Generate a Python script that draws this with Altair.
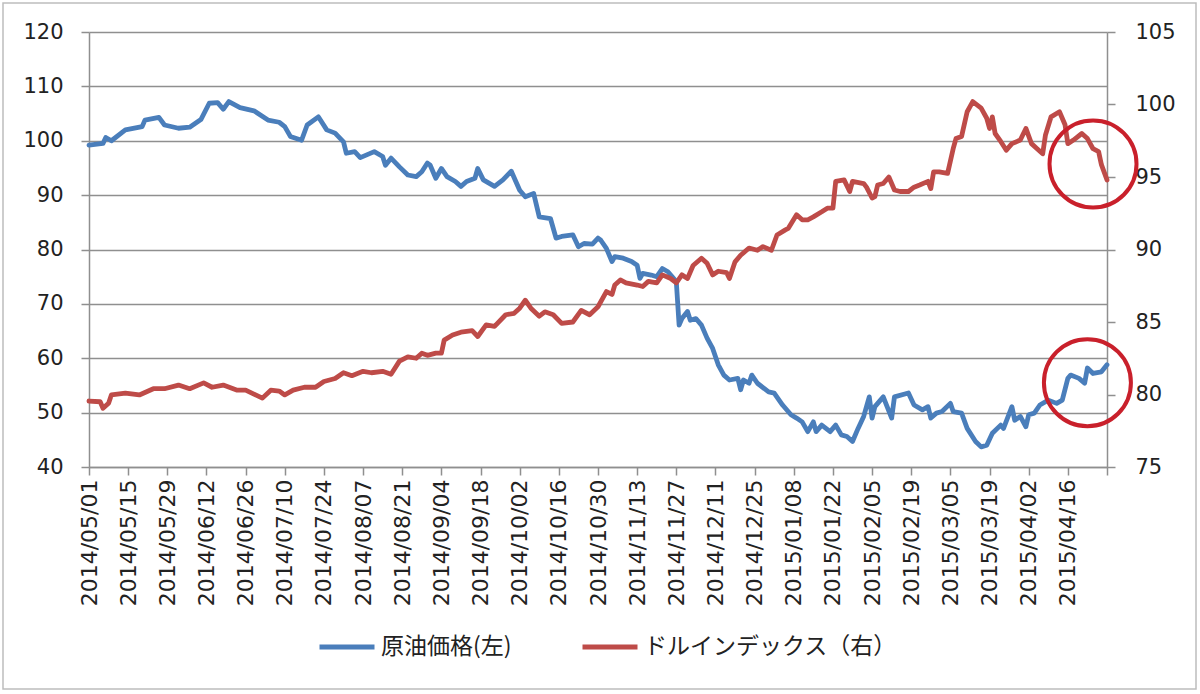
import altair as alt
import pandas as pd

# Series names (legend labels)
OIL = "原油価格(左)"
DXY = "ドルインデックス（右）"

# Crude oil price (left axis)
oil_dates = [
    "2014-05-01", "2014-05-06", "2014-05-07", "2014-05-09", "2014-05-14", "2014-05-20",
    "2014-05-21", "2014-05-26", "2014-05-28", "2014-06-02", "2014-06-06", "2014-06-10",
    "2014-06-13", "2014-06-16", "2014-06-18", "2014-06-20", "2014-06-24", "2014-06-29",
    "2014-07-04", "2014-07-08", "2014-07-10", "2014-07-12", "2014-07-16", "2014-07-18",
    "2014-07-22", "2014-07-25", "2014-07-28", "2014-07-31", "2014-08-01", "2014-08-04",
    "2014-08-06", "2014-08-11", "2014-08-14", "2014-08-15", "2014-08-17", "2014-08-20",
    "2014-08-23", "2014-08-26", "2014-08-28", "2014-08-30",
    "2014-08-31", "2014-09-02", "2014-09-04", "2014-09-06", "2014-09-09", "2014-09-11",
    "2014-09-13", "2014-09-16", "2014-09-17", "2014-09-19", "2014-09-23", "2014-09-26",
    "2014-09-29", "2014-10-02", "2014-10-04", "2014-10-07", "2014-10-09", "2014-10-13",
    "2014-10-15", "2014-10-17", "2014-10-21", "2014-10-23", "2014-10-25", "2014-10-28",
    "2014-10-30",
    "2014-10-31", "2014-11-02", "2014-11-04", "2014-11-05", "2014-11-08", "2014-11-11",
    "2014-11-13", "2014-11-14", "2014-11-15", "2014-11-18", "2014-11-20", "2014-11-22",
    "2014-11-24", "2014-11-27", "2014-11-28", "2014-11-29", "2014-12-01", "2014-12-02",
    "2014-12-04", "2014-12-06", "2014-12-08", "2014-12-10", "2014-12-12", "2014-12-14",
    "2014-12-16", "2014-12-19", "2014-12-20", "2014-12-21", "2014-12-23", "2014-12-24",
    "2014-12-26", "2014-12-30",
    "2015-01-01", "2015-01-04", "2015-01-07", "2015-01-09", "2015-01-11", "2015-01-13",
    "2015-01-15", "2015-01-16", "2015-01-18", "2015-01-21", "2015-01-23", "2015-01-25",
    "2015-01-27", "2015-01-29", "2015-01-31", "2015-02-02", "2015-02-04", "2015-02-05",
    "2015-02-06", "2015-02-08", "2015-02-09", "2015-02-12", "2015-02-13", "2015-02-18",
    "2015-02-20", "2015-02-23", "2015-02-25", "2015-02-26", "2015-02-28",
    "2015-03-02", "2015-03-05", "2015-03-06", "2015-03-09", "2015-03-11", "2015-03-14",
    "2015-03-16", "2015-03-18", "2015-03-20", "2015-03-23", "2015-03-24", "2015-03-27",
    "2015-03-28", "2015-03-30", "2015-04-01", "2015-04-02", "2015-04-04", "2015-04-06",
    "2015-04-09", "2015-04-12", "2015-04-14", "2015-04-16", "2015-04-17", "2015-04-20",
    "2015-04-22", "2015-04-23", "2015-04-25", "2015-04-28", "2015-04-30",
]
oil_values = [
    99.2, 99.5, 100.6, 100.0, 102.0, 102.6,
    103.8, 104.3, 102.9, 102.3, 102.5, 103.9,
    106.9, 107.0, 105.8, 107.2, 106.1, 105.5,
    103.8, 103.4, 102.6, 100.8, 100.1, 102.9,
    104.4, 102.0, 101.4, 99.8, 97.7, 98.0,
    96.9, 98.0, 97.1, 95.5, 96.8, 95.2,
    93.7, 93.4, 94.3, 95.9,
    95.5, 93.1, 94.9, 93.4, 92.5, 91.6,
    92.5, 93.1, 94.9, 92.8, 91.6, 92.8,
    94.4, 90.9, 89.7, 90.3, 86.0, 85.7,
    82.1, 82.4, 82.7, 80.5, 81.1, 81.0,
    82.1,
    81.7, 80.2, 77.8, 78.7, 78.4, 77.8,
    77.1, 74.7, 75.6, 75.3, 75.0, 76.5,
    75.9, 74.1, 66.1, 67.3, 68.6, 67.0,
    67.3, 66.1, 63.7, 61.8, 58.8, 56.9,
    56.0, 56.3, 54.2, 56.0, 55.4, 56.9,
    55.4, 53.8,
    53.6, 51.4, 49.6, 49.0, 48.3, 46.5,
    48.3, 46.5, 47.7, 46.5, 47.7, 45.9,
    45.6, 44.7, 47.1, 49.3, 52.9, 49.0,
    51.1, 52.3, 52.9, 49.0, 52.9, 53.6,
    51.4, 50.5, 51.1, 49.0, 49.9,
    50.2, 51.7, 50.2, 49.9, 47.1, 44.7,
    43.7, 44.0, 46.2, 47.7, 47.1, 51.1,
    48.6, 49.3, 47.4, 49.6, 49.9, 51.4,
    52.3, 51.7, 52.3, 56.3, 56.9, 56.3,
    55.4, 58.2, 57.2, 57.5, 58.8,
]

# Dollar index (right axis)
dxy_dates = [
    "2014-05-01", "2014-05-05", "2014-05-06", "2014-05-08", "2014-05-09", "2014-05-14",
    "2014-05-19", "2014-05-24", "2014-05-28", "2014-06-02", "2014-06-06", "2014-06-11",
    "2014-06-14", "2014-06-18", "2014-06-23", "2014-06-26",
    "2014-07-02", "2014-07-05", "2014-07-08", "2014-07-10", "2014-07-13", "2014-07-17",
    "2014-07-21", "2014-07-24", "2014-07-28", "2014-07-31", "2014-08-03", "2014-08-07",
    "2014-08-10", "2014-08-14", "2014-08-17", "2014-08-20", "2014-08-23", "2014-08-26",
    "2014-08-28", "2014-08-30",
    "2014-09-02", "2014-09-04", "2014-09-05", "2014-09-08", "2014-09-11", "2014-09-15",
    "2014-09-17", "2014-09-20", "2014-09-23", "2014-09-27", "2014-09-30", "2014-10-02",
    "2014-10-04", "2014-10-06", "2014-10-09", "2014-10-11", "2014-10-14", "2014-10-17",
    "2014-10-21", "2014-10-24", "2014-10-27", "2014-10-30",
    "2014-11-02", "2014-11-04", "2014-11-05", "2014-11-07", "2014-11-09", "2014-11-13",
    "2014-11-15", "2014-11-17", "2014-11-20", "2014-11-22", "2014-11-25", "2014-11-27",
    "2014-11-29", "2014-12-01", "2014-12-03", "2014-12-06", "2014-12-08", "2014-12-10",
    "2014-12-12", "2014-12-15", "2014-12-16", "2014-12-18", "2014-12-20", "2014-12-23",
    "2014-12-26", "2014-12-28",
    "2014-12-31", "2015-01-02", "2015-01-05", "2015-01-06", "2015-01-09", "2015-01-11",
    "2015-01-13", "2015-01-15", "2015-01-18", "2015-01-20", "2015-01-22", "2015-01-23",
    "2015-01-26", "2015-01-28", "2015-01-29", "2015-02-02", "2015-02-03", "2015-02-05",
    "2015-02-06", "2015-02-07", "2015-02-09", "2015-02-11", "2015-02-13", "2015-02-15",
    "2015-02-18", "2015-02-20", "2015-02-22", "2015-02-25", "2015-02-26", "2015-02-27",
    "2015-03-01", "2015-03-04", "2015-03-06", "2015-03-07", "2015-03-09", "2015-03-11",
    "2015-03-13", "2015-03-16", "2015-03-18", "2015-03-19", "2015-03-20", "2015-03-21",
    "2015-03-23", "2015-03-25", "2015-03-27", "2015-03-30", "2015-04-01", "2015-04-03",
    "2015-04-05", "2015-04-07", "2015-04-08", "2015-04-10", "2015-04-13", "2015-04-15",
    "2015-04-16", "2015-04-18", "2015-04-21", "2015-04-23", "2015-04-25", "2015-04-27",
    "2015-04-28", "2015-04-30",
]
dxy_values = [
    79.55, 79.5, 79.05, 79.4, 79.97, 80.1,
    79.97, 80.4, 80.4, 80.65, 80.4, 80.8,
    80.5, 80.65, 80.3, 80.3,
    79.75, 80.3, 80.24, 79.97, 80.3, 80.5,
    80.5, 80.9, 81.1, 81.5, 81.3, 81.6,
    81.5, 81.6, 81.4, 82.3, 82.6, 82.5,
    82.85, 82.7,
    82.85, 82.85, 83.75, 84.1, 84.3, 84.4,
    84.0, 84.8, 84.7, 85.5, 85.6, 85.95,
    86.5, 85.95, 85.4, 85.7, 85.5, 84.9,
    85.0, 85.8, 85.5, 86.05,
    87.1, 86.9, 87.55, 87.9, 87.7, 87.55,
    87.45, 87.8, 87.7, 88.25, 88.0, 87.7,
    88.25, 88.0, 88.9, 89.4, 89.05, 88.25,
    88.5, 88.4, 88.0, 89.15, 89.6, 90.1,
    89.95, 90.2,
    89.95, 91.0, 91.35, 91.45, 92.4, 92.05,
    92.05, 92.25, 92.6, 92.85, 92.85, 94.7,
    94.8, 94.0, 94.7, 94.55, 94.3, 93.55,
    93.65, 94.45, 94.55, 95.0, 94.1, 94.0,
    94.0, 94.3, 94.45, 94.7, 94.2, 95.35,
    95.35, 95.25, 96.95, 97.65, 97.8, 99.5,
    100.2, 99.75, 99.05, 98.35, 99.15, 98.0,
    97.45, 96.85, 97.3, 97.55, 98.35, 97.3,
    96.95, 96.6, 97.9, 99.15, 99.5, 98.6,
    97.3, 97.55, 98.0, 97.65, 96.95, 96.75,
    95.85, 94.8,
]

# Date tick labels every two weeks; the axis runs on to axis_end
tick_labels = [
    "2014/05/01", "2014/05/15", "2014/05/29", "2014/06/12", "2014/06/26", "2014/07/10",
    "2014/07/24", "2014/08/07", "2014/08/21", "2014/09/04", "2014/09/18", "2014/10/02",
    "2014/10/16", "2014/10/30", "2014/11/13", "2014/11/27", "2014/12/11", "2014/12/25",
    "2015/01/08", "2015/01/22", "2015/02/05", "2015/02/19", "2015/03/05", "2015/03/19",
    "2015/04/02", "2015/04/16",
]
axis_start = "2014/05/01"
axis_end = "2015/04/30"

oil_domain = [40, 120]
dxy_domain = [75, 105]
oil_ticks = [40, 50, 60, 70, 80, 90, 100, 110, 120]
dxy_ticks = [75, 80, 85, 90, 95, 100, 105]

# Highlight rings around the latest moves
dxy_ring_date, dxy_ring_value = "2015-04-25", 95.9
oil_ring_date, oil_ring_value = "2015-04-23", 55.5

BLUE = "#4a7ebb"
RED = "#be4b48"
RING = "#c9202b"
GRID = "#8f8f8f"
TEXT = "#222222"
NUM_FONT = "DejaVu Sans"
JP_FONT = "Noto Sans CJK JP"


def to_dt(label):
    y, m, d = (int(p) for p in label.split("/"))
    return alt.DateTime(year=y, month=m, date=d)


oil_df = pd.DataFrame({"date": pd.to_datetime(oil_dates), "value": oil_values, "series": OIL})
dxy_df = pd.DataFrame({"date": pd.to_datetime(dxy_dates), "value": dxy_values, "series": DXY})
oil_ring_df = pd.DataFrame({"date": pd.to_datetime([oil_ring_date]), "value": [oil_ring_value]})
dxy_ring_df = pd.DataFrame({"date": pd.to_datetime([dxy_ring_date]), "value": [dxy_ring_value]})

# One shared date scale and axis, given identically to every layer
x_scale = alt.Scale(domain=[to_dt(axis_start), to_dt(axis_end)])
x_axis = alt.Axis(
    values=[to_dt(t) for t in tick_labels + [axis_end]],
    labelExpr="datum.value >= datetime(2015, 3, 30) ? '' : timeFormat(datum.value, '%Y/%m/%d')",
    labelAngle=-90,
    labelAlign="right",
    labelBaseline="middle",
    labelOverlap=False,
    labelFont=NUM_FONT,
    labelFontSize=22,
    labelColor=TEXT,
    labelPadding=4,
    tickSize=8,
    tickColor=GRID,
    tickWidth=1.5,
    domainColor=GRID,
    domainWidth=1.5,
    grid=False,
    title=None,
)
x_enc = alt.X("date:T", scale=x_scale, axis=x_axis)

color_scale = alt.Scale(domain=[OIL, DXY], range=[BLUE, RED])
legend = alt.Legend(
    title=None,
    orient="none",
    legendX=228,
    legendY=585,
    direction="horizontal",
    symbolType="stroke",
    symbolSize=3025,
    symbolStrokeWidth=5,
    labelFont=JP_FONT,
    labelFontSize=23,
    labelColor=TEXT,
    labelOffset=4,
    labelLimit=400,
    columnPadding=60,
)

oil_line = alt.Chart(oil_df).mark_line(strokeWidth=4.8, strokeJoin="round", strokeCap="round").encode(
    x=x_enc,
    y=alt.Y(
        "value:Q",
        scale=alt.Scale(domain=oil_domain, nice=False, zero=False),
        axis=alt.Axis(
            orient="left",
            values=oil_ticks,
            grid=True,
            gridColor=GRID,
            gridWidth=1.5,
            tickSize=8,
            tickColor=GRID,
            tickWidth=1.5,
            domainColor=GRID,
            domainWidth=1.5,
            labelFont=NUM_FONT,
            labelFontSize=21,
            labelColor=TEXT,
            labelPadding=18,
            title=None,
        ),
    ),
    color=alt.Color("series:N", scale=color_scale, legend=legend),
)

dxy_line = alt.Chart(dxy_df).mark_line(strokeWidth=4.8, strokeJoin="round", strokeCap="round").encode(
    x=x_enc,
    y=alt.Y(
        "value:Q",
        scale=alt.Scale(domain=dxy_domain, nice=False, zero=False),
        axis=alt.Axis(
            orient="right",
            values=dxy_ticks,
            grid=False,
            tickSize=8,
            tickColor=GRID,
            tickWidth=1.5,
            domainColor=GRID,
            domainWidth=1.5,
            labelFont=NUM_FONT,
            labelFontSize=21,
            labelColor=TEXT,
            labelPadding=20,
            title=None,
        ),
    ),
    color=alt.Color("series:N", scale=color_scale, legend=legend),
)


def ring(df, domain):
    return alt.Chart(df).mark_point(
        shape="circle", filled=False, size=7570, strokeWidth=4, color=RING, opacity=1
    ).encode(
        x=x_enc,
        y=alt.Y("value:Q", scale=alt.Scale(domain=domain, nice=False, zero=False), axis=None),
    )


oil_ring = ring(oil_ring_df, oil_domain)
dxy_ring = ring(dxy_ring_df, dxy_domain)

# Light frame around the whole chart area
frame = alt.Chart(alt.Data(values=[{"frame": 1}])).mark_rect(
    fill="transparent", stroke="#bdbdbd", strokeWidth=1.5
).encode(
    x=alt.value(-86),
    x2=alt.value(1107),
    y=alt.value(-29),
    y2=alt.value(657),
)

chart = (
    alt.layer(oil_line, dxy_line, oil_ring, dxy_ring, frame)
    .resolve_scale(y="independent")
    .properties(
        width=1018,
        height=435,
        padding={"left": 89, "top": 32, "right": 93, "bottom": 227},
        autosize=alt.AutoSizeParams(type="none"),
        background="white",
    )
    .configure_view(strokeWidth=0)
    .configure_axisX(labelOverlap=False)
)

chart.save("out.html", embed_options={"renderer": "svg", "actions": False})
